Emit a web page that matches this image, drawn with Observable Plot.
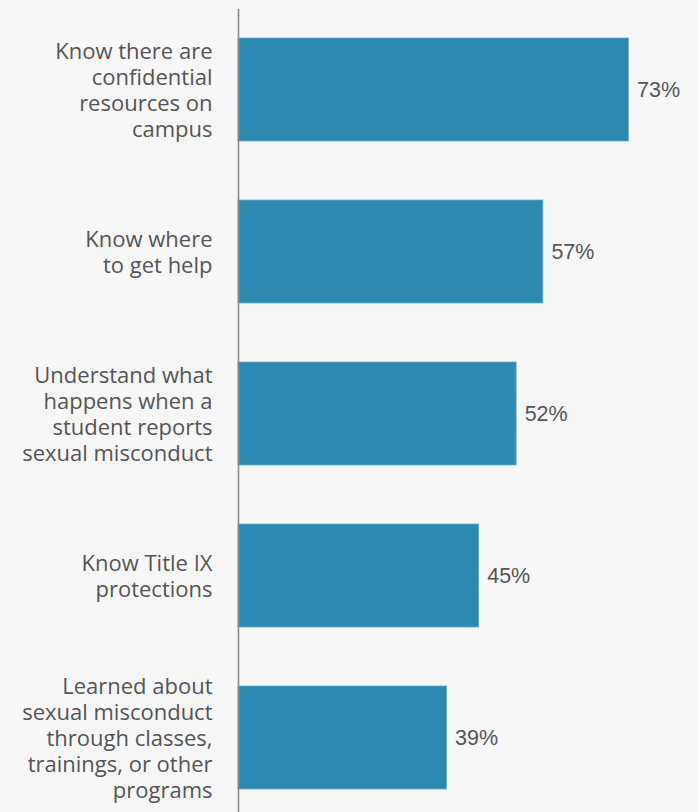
<!DOCTYPE html>
<html>
<head>
<meta charset="utf-8">
<script src="https://cdn.jsdelivr.net/npm/d3@7"></script>
<script src="https://cdn.jsdelivr.net/npm/@observablehq/plot@0.6"></script>
<style>
  html, body { margin: 0; padding: 0; background: #f7f7f7; }
  #chart svg { display: block; }
</style>
</head>
<body>
<div id="chart"></div>
<script>
const categories = [
  "Know there are\nconfidential\nresources on\ncampus",
  "Know where\nto get help",
  "Understand what\nhappens when a\nstudent reports\nsexual misconduct",
  "Know Title IX\nprotections",
  "Learned about\nsexual misconduct\nthrough classes,\ntrainings, or other\nprograms"
];
const values = [73, 57, 52, 45, 39];

const data = categories.map((c, i) => ({category: c, value: values[i]}));

const chart = Plot.plot({
  width: 698,
  height: 812,
  marginLeft: 238,
  marginRight: 0,
  marginTop: 9,
  marginBottom: 0,
  style: {background: "#f7f7f7"},
  x: {domain: [0, 86], axis: null},
  y: {domain: categories, range: [8.5, 818.5], paddingInner: 0.364, paddingOuter: 0.182, axis: null},
  marks: [
    Plot.barX(data, {x: "value", y: "category", fill: "#2d89b0", stroke: "#6aaccb", strokeWidth: 0.8}),
    Plot.ruleX([0], {stroke: "#8a8a8a", strokeWidth: 1.6}),
    Plot.text(data, {
      x: 0, y: "category", text: "category", dx: -26, textAnchor: "end",
      fontFamily: "'Open Sans', sans-serif", fontSize: 22, fill: "#555", lineHeight: 1.18
    }),
    Plot.text(data, {
      x: "value", y: "category", text: d => d.value + "%", dx: 8, textAnchor: "start",
      fontFamily: "'Liberation Sans', Arial, sans-serif", fontSize: 21.5, fill: "#555"
    })
  ]
});
document.getElementById("chart").appendChild(chart);
</script>
</body>
</html>
